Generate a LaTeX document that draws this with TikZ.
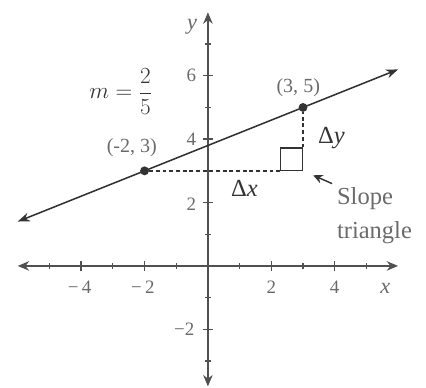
\documentclass[tikz,border=0pt]{standalone}
\usepackage{fontspec}
\setmainfont{Liberation Serif}
\usetikzlibrary{arrows.meta,positioning}
\definecolor{Ink}{HTML}{333333}
\definecolor{Axis}{HTML}{505050}
\definecolor{Label}{HTML}{6A6A6A}

\begin{document}
\begin{tikzpicture}[
    axis/.style={draw=Axis,line width=1.3pt,
      {Stealth[length=3.6mm,width=3mm]}-{Stealth[length=3.6mm,width=3mm]}},
    graph/.style={draw=Ink,line width=1.4pt,
      {Stealth[length=3.8mm,width=2.8mm]}-{Stealth[length=3.8mm,width=2.8mm]}},
    dot/.style={circle,fill=Ink,inner sep=0pt,minimum size=2.8mm},
    guide/.style={draw=Ink,dash pattern=on 3.5pt off 2.5pt,line width=1.3pt},
    corner/.style={draw=Ink,line width=1.1pt,minimum size=7mm,inner sep=0pt},
    pointer/.style={-{Stealth[length=3mm,width=2.8mm]},draw=Ink,line width=1.3pt},
    tick/.style={font=\fontsize{17}{20}\selectfont,text=Label},
    lbl/.style={font=\fontsize{22}{30}\selectfont,text=Ink}]
  \useasboundingbox (-6.56,-3.85) rectangle (6.88,8.39);

  % axes
  \coordinate (xmin) at (-6,0);
  \coordinate (xmax) at (6,0);
  \coordinate (ymin) at (0,-3.8);
  \coordinate (ymax) at (0,8);
  \draw[axis] (xmin) -- (xmax);
  \draw[axis] (ymin) -- (ymax);
  \foreach \t in {-5,-3,-1,1,3,5}
    \draw[Axis,line width=1pt] (\t,-0.09) -- (\t,0.09);
  \foreach \t in {-4,-2,2,4}
    \draw[Axis,line width=1.3pt] (\t,-0.17) -- (\t,0.17);
  \foreach \t in {-3,-1,1,3,5,7}
    \draw[Axis,line width=1pt] (-0.09,\t) -- (0.09,\t);
  \foreach \t in {-2,2,4,6}
    \draw[Axis,line width=1.3pt] (-0.17,\t) -- (0.17,\t);

  % tick labels
  \node[tick] (xl4m) at (-4.05,-0.68) {−\hspace{0.18em}4};
  \node[tick] (xl2m) at (-2.05,-0.68) {−\hspace{0.18em}2};
  \node[tick] (xl2) at (2,-0.68) {2};
  \node[tick] (xl4) at (4,-0.68) {4};
  \node[tick,font=\fontsize{20}{22}\selectfont\itshape] (xname) at (5.6,-0.72) {x};
  \node[tick] (yl2) at (-0.52,1.95) {2};
  \node[tick] (yl4) at (-0.52,4) {4};
  \node[tick] (yl6) at (-0.52,6) {6};
  \node[tick] (yl2m) at (-0.75,-2) {−2};
  \node[tick,font=\fontsize{20}{22}\selectfont\itshape] (yname) at (-0.5,7.55) {y};

  % the line and its points
  \coordinate (lstart) at (-6,1.4);
  \coordinate (lend) at (6,6.2);
  \draw[graph] (lstart) -- (lend);
  \node[dot] (p1) at (-2,3) {};
  \node[dot] (p2) at (3,5) {};
  \node[tick,font=\fontsize{18}{20}\selectfont] (p1lbl) at (-2.4,3.72) {(-2, 3)};
  \node[tick,font=\fontsize{18}{20}\selectfont] (p2lbl) at (2.85,5.62) {(3, 5)};

  % slope triangle
  \node[corner,anchor=south east] (rt) at (3,3) {};
  \draw[guide] (p1) -- (rt.south west);
  \draw[guide] (rt.north east) -- (p2);
  \node[lbl] (dy) at (3.9,4.05) {Δ\textit{y}};
  \node[lbl] (dx) at (1.15,2.45) {Δ\textit{x}};
  \node[lbl] (slope) at (-2.75,5.5) {$m=\displaystyle\frac{2}{5}$};
  \node[lbl,align=left,anchor=west,text=Label] (tri) at (3.95,1.58) {Slope\\triangle};
  \draw[pointer,shorten <=1pt,shorten >=3.5mm] (tri.north west) -- (rt.south east);
\end{tikzpicture}
\end{document}
